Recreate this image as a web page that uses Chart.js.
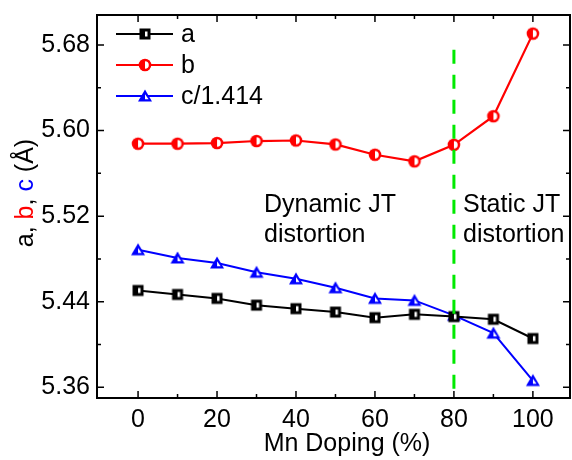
<!DOCTYPE html>
<html>
<head>
<meta charset="utf-8">
<title>Lattice parameters vs Mn doping</title>
<script src="https://cdn.jsdelivr.net/npm/chart.js@4.4.1/dist/chart.umd.min.js"></script>
<style>
    html, body { margin: 0; padding: 0; background: #ffffff; }
    canvas { display: block; }
</style>
</head>
<body>
<canvas id="lattice-chart" width="572" height="460"></canvas>
<script>
// Mn doping levels (%)
const doping = [0, 10, 20, 30, 40, 50, 60, 70, 80, 90, 100];
// Lattice parameter a (Å)
const latticeA = [5.4505, 5.4468, 5.4431, 5.4368, 5.4335, 5.4303, 5.4251, 5.4282, 5.4261, 5.4236, 5.4056];
// Lattice parameter b (Å)
const latticeB = [5.5877, 5.5877, 5.5883, 5.5902, 5.5907, 5.5870, 5.5774, 5.5712, 5.5867, 5.6134, 5.6906];
// Lattice parameter c divided by 1.414 (Å)
const latticeC = [5.4886, 5.4809, 5.4762, 5.4675, 5.4614, 5.4530, 5.4431, 5.4412, 5.4273, 5.4106, 5.3663];
// Axis tick labels
const xTicks = [0, 20, 40, 60, 80, 100];
const yTicks = [5.36, 5.44, 5.52, 5.60, 5.68];
// Dynamic / static JT boundary (dashed green line)
const boundaryX = [80, 80];
const boundaryY = [5.6755, 5.35];

const FONT = '"Liberation Sans", Arial, sans-serif';

// Half filled markers, drawn once on small canvases
function makeMarker(shape, color) {
    const c = document.createElement('canvas');
    c.width = 16;
    c.height = 16;
    const ctx = c.getContext('2d');
    const m = 8;
    ctx.fillStyle = color;
    if (shape === 'square') {
        ctx.fillRect(m - 5.5, m - 5.5, 11, 11);
        ctx.fillStyle = '#ffffff';
        ctx.fillRect(m, m - 2.5, 2.5, 5);
    } else if (shape === 'circle') {
        ctx.beginPath();
        ctx.arc(m, m, 6.3, 0, Math.PI * 2);
        ctx.fill();
        ctx.fillStyle = '#ffffff';
        ctx.beginPath();
        ctx.moveTo(m, m - 3.8);
        ctx.arc(m, m, 3.8, -Math.PI / 2, Math.PI / 2);
        ctx.closePath();
        ctx.fill();
    } else {
        ctx.beginPath();
        ctx.moveTo(m, m - 6.5);
        ctx.lineTo(m + 7, m + 5.5);
        ctx.lineTo(m - 7, m + 5.5);
        ctx.closePath();
        ctx.fill();
        // white right half of the inner triangle
        ctx.save();
        ctx.beginPath();
        ctx.rect(m, 0, 16, 16);
        ctx.clip();
        ctx.fillStyle = '#ffffff';
        ctx.beginPath();
        ctx.moveTo(m, m - 1.8);
        ctx.lineTo(m + 3.6, m + 3.2);
        ctx.lineTo(m - 3.6, m + 3.2);
        ctx.closePath();
        ctx.fill();
        ctx.restore();
    }
    return c;
}

const markerA = makeMarker('square', '#000000');
const markerB = makeMarker('circle', '#ff0000');
const markerC = makeMarker('triangle', '#0000ff');

const legendItems = [
    { text: 'a', color: '#000000', marker: markerA },
    { text: 'b', color: '#ff0000', marker: markerB },
    { text: 'c/1.414', color: '#0000ff', marker: markerC }
];

function toPoints(xs, ys) {
    return xs.map((x, i) => ({ x: x, y: ys[i] }));
}

function minorsOf(ticks) {
    const out = [];
    for (let i = 0; i < ticks.length - 1; i++) {
        out.push((ticks[i] + ticks[i + 1]) / 2);
    }
    return out;
}

// Frame, inward ticks, legend, axis titles and annotations
const decorPlugin = {
    id: 'decor',
    afterDraw(chart) {
        const ctx = chart.ctx;
        const area = chart.chartArea;
        const xs = chart.scales.x;
        const ys = chart.scales.y;
        ctx.save();

        // Box
        ctx.strokeStyle = '#000000';
        ctx.lineWidth = 2;
        ctx.strokeRect(area.left, area.top, area.right - area.left, area.bottom - area.top);

        // Ticks pointing inward on all four sides
        ctx.lineWidth = 1.5;
        ctx.beginPath();
        const xMarks = xTicks.map(v => [v, 7]).concat(minorsOf(xTicks).map(v => [v, 4]));
        xMarks.forEach(([v, len]) => {
            const px = xs.getPixelForValue(v);
            ctx.moveTo(px, area.bottom);
            ctx.lineTo(px, area.bottom - len);
            ctx.moveTo(px, area.top);
            ctx.lineTo(px, area.top + len);
        });
        const yMarks = yTicks.map(v => [v, 7]).concat(minorsOf(yTicks).map(v => [v, 4]));
        yMarks.forEach(([v, len]) => {
            const py = ys.getPixelForValue(v);
            ctx.moveTo(area.left, py);
            ctx.lineTo(area.left + len, py);
            ctx.moveTo(area.right, py);
            ctx.lineTo(area.right - len, py);
        });
        ctx.stroke();

        // Legend
        ctx.font = '25px ' + FONT;
        ctx.textBaseline = 'middle';
        ctx.textAlign = 'left';
        legendItems.forEach((item, i) => {
            const ly = 34 + i * 31;
            ctx.strokeStyle = item.color;
            ctx.lineWidth = 2;
            ctx.beginPath();
            ctx.moveTo(116, ly);
            ctx.lineTo(173, ly);
            ctx.stroke();
            ctx.drawImage(item.marker, 145 - 8, ly - 8);
            ctx.fillStyle = '#000000';
            ctx.fillText(item.text, 181, ly + 1);
        });

        // Annotations
        ctx.textBaseline = 'alphabetic';
        ctx.fillStyle = '#000000';
        ctx.fillText('Dynamic JT', 264, 212);
        ctx.fillText('distortion', 264, 242);
        ctx.fillText('Static JT', 463, 212);
        ctx.fillText('distortion', 463, 242);

        // X axis title
        ctx.textAlign = 'center';
        ctx.fillText('Mn Doping (%)', 347, 451);

        // Multi-coloured y axis title
        ctx.textAlign = 'left';
        const parts = [
            ['a, ', '#000000'],
            ['b', '#ff0000'],
            [', ', '#000000'],
            ['c', '#0000ff'],
            [' (Å)', '#000000']
        ];
        const total = parts.reduce((s, p) => s + ctx.measureText(p[0]).width, 0);
        ctx.translate(33, 193);
        ctx.rotate(-Math.PI / 2);
        let cx = -total / 2;
        parts.forEach(([t, col]) => {
            ctx.fillStyle = col;
            ctx.fillText(t, cx, 0);
            cx += ctx.measureText(t).width;
        });
        ctx.restore();
    }
};

const chartCanvas = document.querySelector('#lattice-chart');
new Chart(chartCanvas, {
    type: 'line',
    data: {
        datasets: [
            {
                label: 'boundary',
                data: toPoints(boundaryX, boundaryY),
                borderColor: '#00ea00',
                borderWidth: 3,
                borderDash: [14, 11],
                pointRadius: 0,
                order: 0
            },
            {
                label: 'a',
                data: toPoints(doping, latticeA),
                borderColor: '#000000',
                borderWidth: 2,
                pointStyle: markerA,
                order: 1
            },
            {
                label: 'c/1.414',
                data: toPoints(doping, latticeC),
                borderColor: '#0000ff',
                borderWidth: 2,
                pointStyle: markerC,
                order: 2
            },
            {
                label: 'b',
                data: toPoints(doping, latticeB),
                borderColor: '#ff0000',
                borderWidth: 2.2,
                pointStyle: markerB,
                order: 3
            }
        ]
    },
    options: {
        responsive: false,
        animation: false,
        layout: { autoPadding: false, padding: { top: 15, right: 2, bottom: 0, left: 0 } },
        plugins: {
            legend: { display: false },
            tooltip: { enabled: false }
        },
        scales: {
            x: {
                type: 'linear',
                min: -10.4,
                max: 109.4,
                grid: { display: false, drawTicks: false },
                border: { display: false },
                afterBuildTicks: (scale) => { scale.ticks = xTicks.map(v => ({ value: v })); },
                afterFit: (scale) => {
                    scale.height = 62;
                    scale.paddingLeft = 0;
                    scale.paddingRight = 0;
                },
                ticks: {
                    color: '#000000',
                    padding: 7,
                    maxRotation: 0,
                    font: { family: FONT, size: 25 },
                    callback: (v) => String(v)
                }
            },
            y: {
                type: 'linear',
                min: 5.35,
                max: 5.708,
                grid: { display: false, drawTicks: false },
                border: { display: false },
                afterBuildTicks: (scale) => { scale.ticks = yTicks.map(v => ({ value: v })); },
                afterFit: (scale) => {
                    scale.width = 97;
                    scale.paddingTop = 0;
                    scale.paddingBottom = 0;
                },
                ticks: {
                    color: '#000000',
                    padding: 7,
                    font: { family: FONT, size: 25 },
                    callback: (v) => Number(v).toFixed(2)
                }
            }
        }
    },
    plugins: [decorPlugin]
});
</script>
</body>
</html>
